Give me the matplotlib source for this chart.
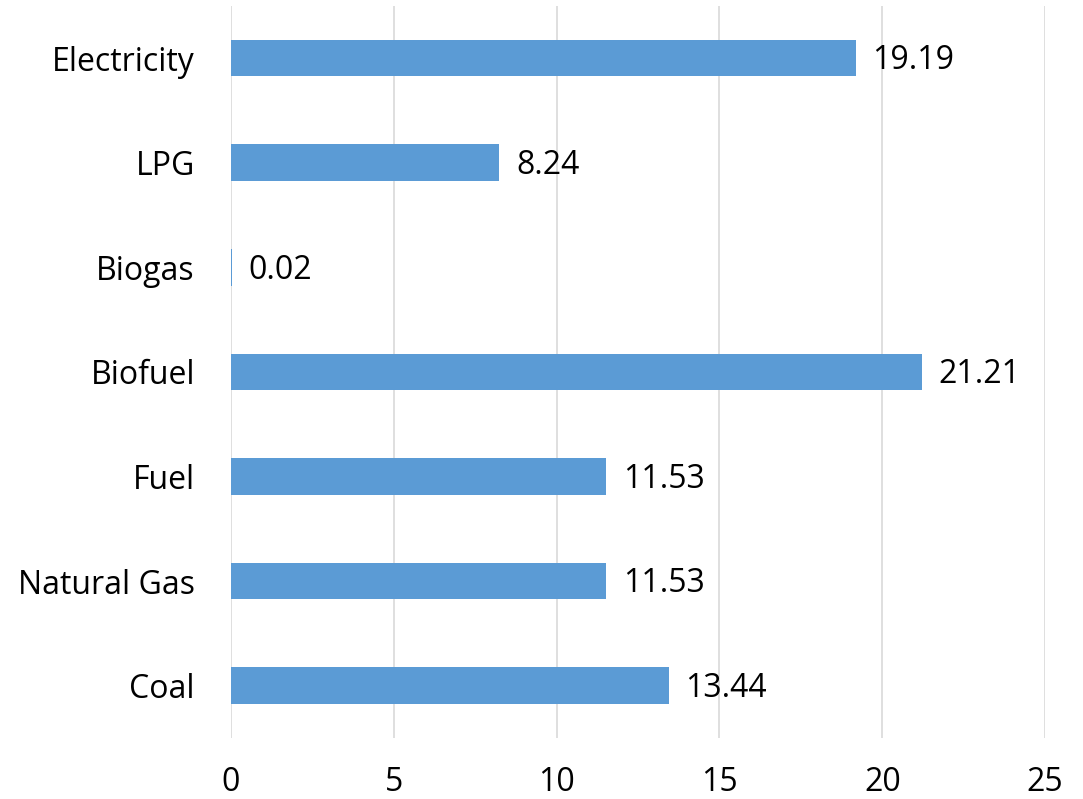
import matplotlib.pyplot as plt

plt.rcParams['font.family'] = ['Open Sans', 'DejaVu Sans']

# fuel categories, listed bottom to top
categories = ['Coal', 'Natural Gas', 'Fuel', 'Biofuel', 'Biogas', 'LPG', 'Electricity']
values = [13.44, 11.53, 11.53, 21.21, 0.02, 8.24, 19.19]

fig = plt.figure(figsize=(10.83, 7.99), dpi=100)
ax = fig.add_axes([0.2133, 0.0764, 0.7517, 0.9164])

ax.barh(categories, values, height=0.35, color='#5B9BD5', zorder=3)

for y, v in enumerate(values):
    ax.annotate(f'{v:.2f}', xy=(v, y), xytext=(12, -2), textcoords='offset points',
                va='center', ha='left', fontsize=23, color='black')

ax.set_xlim(0, 25)
ax.set_ylim(-0.5, len(categories) - 0.5)
ax.set_xticks([0, 5, 10, 15, 20, 25])
ax.grid(axis='x', color='#D9D9D9', linewidth=1.2, zorder=0)
for s in ax.spines.values():
    s.set_visible(False)
ax.tick_params(axis='both', length=0, labelsize=23)
ax.tick_params(axis='y', pad=26)
ax.tick_params(axis='x', pad=20)

fig.savefig('out.png', dpi=100)
